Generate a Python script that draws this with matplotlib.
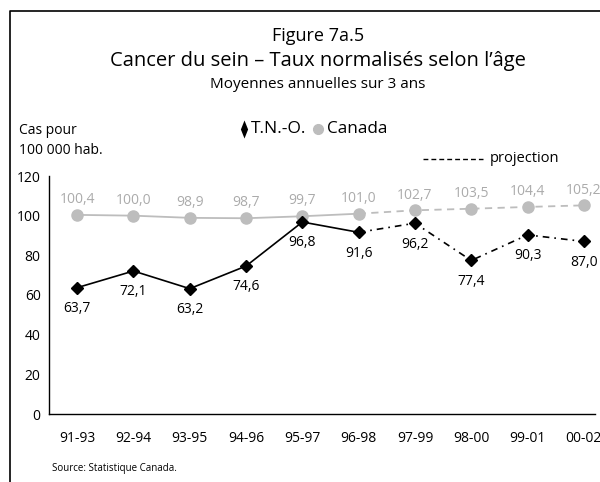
import matplotlib.pyplot as plt
from matplotlib.lines import Line2D

plt.rcParams['font.family'] = ['Open Sans', 'DejaVu Sans']

periods = ["91-93", "92-94", "93-95", "94-96", "95-97", "96-98", "97-99", "98-00", "99-01", "00-02"]
tno = [63.7, 72.1, 63.2, 74.6, 96.8, 91.6, 96.2, 77.4, 90.3, 87.0]
canada = [100.4, 100.0, 98.9, 98.7, 99.7, 101.0, 102.7, 103.5, 104.4, 105.2]
n_obs = 6  # first 6 periods observed, rest is projection

black = "#000000"
grey = "#bdbdbd"
grey_txt = "#ababab"

fig = plt.figure(figsize=(6, 4.82), dpi=100)
ax = fig.add_axes([49 / 600, 68 / 482, 563 / 600, 238 / 482])

x = list(range(len(periods)))

# Canada: solid then dashed
ax.plot(x[:n_obs], canada[:n_obs], color=grey, lw=1.3, zorder=2)
ax.plot(x[n_obs - 1:], canada[n_obs - 1:], color=grey, lw=1.3, ls=(0, (4, 3)), zorder=2)
ax.plot(x, canada, ls="none", marker="o", ms=8, color=grey, zorder=3)

# T.N.-O.: solid then dashed
ax.plot(x[:n_obs], tno[:n_obs], color=black, lw=1.2, zorder=4)
ax.plot(x[n_obs - 1:], tno[n_obs - 1:], color=black, lw=1.2, ls=(0, (4, 3, 1, 3)), zorder=4)
ax.plot(x, tno, ls="none", marker="D", ms=6.5, color=black, zorder=5)

for xi, v in zip(x, canada):
    ax.annotate(f"{v:.1f}".replace(".", ","), (xi, v), xytext=(0, 11), textcoords="offset points",
                ha="center", va="center", fontsize=10, color=grey_txt)
for xi, v in zip(x, tno):
    ax.annotate(f"{v:.1f}".replace(".", ","), (xi, v), xytext=(0, -15), textcoords="offset points",
                ha="center", va="center", fontsize=10, color=black)

ax.set_xlim(-0.5, len(periods) - 0.5)
ax.set_ylim(0, 120)
ax.set_yticks(range(0, 121, 20))
ax.set_xticks(x)
ax.set_xticklabels(periods)
ax.tick_params(axis="both", length=0, labelsize=10)
ax.tick_params(axis="x", pad=12)
ax.tick_params(axis="y", pad=6)
for s in ["top", "right"]:
    ax.spines[s].set_visible(False)
for s in ["left", "bottom"]:
    ax.spines[s].set_linewidth(1.0)
ax.spines["bottom"].set_bounds(-0.5, 9.2)

# titles
fig.text(318 / 600, 1 - 36 / 482, "Figure 7a.5", ha="center", va="center", fontsize=13)
fig.text(318 / 600, 1 - 61 / 482, "Cancer du sein \u2013 Taux normalisés selon l\u2019âge",
         ha="center", va="center", fontsize=14.5)
fig.text(318 / 600, 1 - 84 / 482, "Moyennes annuelles sur 3 ans", ha="center", va="center", fontsize=11)

# legend
thin_diamond = [(0, 1), (0.4, 0), (0, -1), (-0.4, 0), (0, 1)]
fig.add_artist(Line2D([244 / 600], [1 - 129 / 482], marker=thin_diamond, ms=13, mew=0, color=black,
                      transform=fig.transFigure))
fig.text(251 / 600, 1 - 129 / 482, "T.N.-O.", ha="left", va="center", fontsize=12.5)
fig.add_artist(Line2D([318 / 600], [1 - 129 / 482], marker="o", ms=7, color=grey, transform=fig.transFigure))
fig.text(327 / 600, 1 - 129 / 482, "Canada", ha="left", va="center", fontsize=12.3)

fig.add_artist(Line2D([423 / 600, 483 / 600], [1 - 159 / 482] * 2, color=black, lw=1.0,
                      ls=(0, (3.5, 2.2)), transform=fig.transFigure))
fig.text(490 / 600, 1 - 159 / 482, "projection", ha="left", va="center", fontsize=10.5)

fig.text(19 / 600, 1 - 131 / 482, "Cas pour", ha="left", va="center", fontsize=10)
fig.text(19 / 600, 1 - 150 / 482, "100 000 hab.", ha="left", va="center", fontsize=10)

fig.text(52 / 600, 1 - 469 / 482, "Source: Statistique Canada.", ha="left", va="center", fontsize=7)

# outer frame (left and top)
fig.add_artist(Line2D([10 / 600, 10 / 600, 1.0], [0, 1 - 11 / 482, 1 - 11 / 482], color=black, lw=1.2,
                      transform=fig.transFigure))

fig.savefig("out.png", dpi=100)
